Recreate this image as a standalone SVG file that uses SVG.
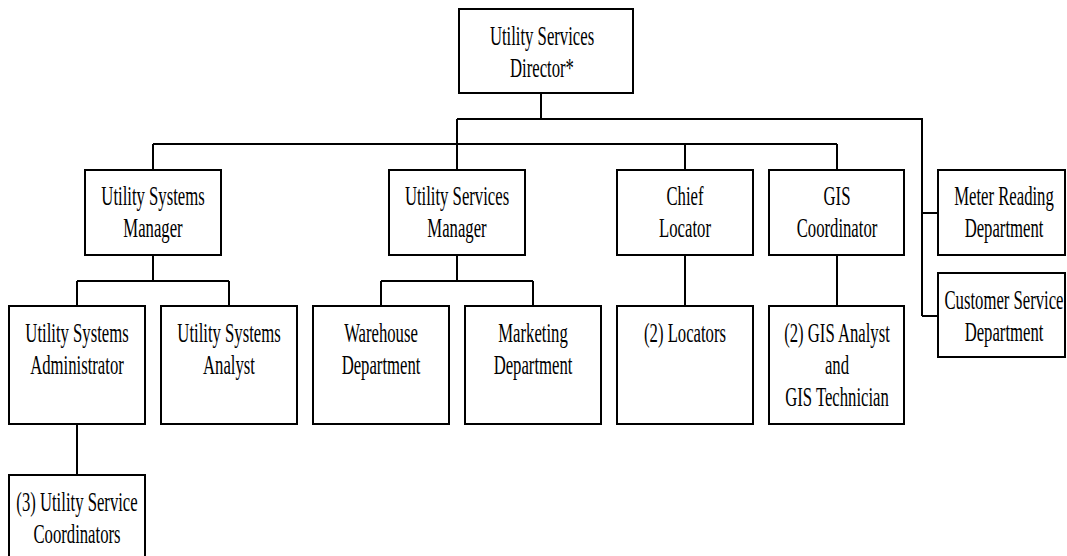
<svg xmlns="http://www.w3.org/2000/svg" width="1067" height="556" viewBox="0 0 1067 556">
  <style>
    .box { fill: #fff; stroke: #000; stroke-width: 2; }
    .link { fill: none; stroke: #000; stroke-width: 2; }
    .t { font-family: "Liberation Serif", "Times New Roman", serif; font-size: 26.5px; fill: #000; text-anchor: middle; }
  </style>
  <rect width="1067" height="556" fill="#fff"/>

  <!-- connectors -->
  <g id="connectors">
    <path class="link" d="M541 93 V119 M457 119 H922 V316 M922 213 H938 M922 316 H938"/>
    <path class="link" d="M457 119 V170 M153 144 H837 M153 144 V170 M685 144 V170 M837 144 V170"/>
    <path class="link" d="M153 255 V281 M77 281 H229 M77 281 V306 M229 281 V306"/>
    <path class="link" d="M457 255 V281 M381 281 H533 M381 281 V306 M533 281 V306"/>
    <path class="link" d="M685 255 V306 M837 255 V306 M77 424 V475"/>
  </g>

  <g id="director">
    <rect class="box" x="459" y="9" width="174" height="84"/>
    <text class="t" transform="translate(542 0) scale(0.63 1)"><tspan x="0" y="45">Utility Services</tspan><tspan x="0" y="77">Director*</tspan></text>
  </g>

  <g id="systems-manager">
    <rect class="box" x="85" y="170" width="136" height="85"/>
    <text class="t" transform="translate(153 0) scale(0.63 1)"><tspan x="0" y="205">Utility Systems</tspan><tspan x="0" y="237">Manager</tspan></text>
  </g>

  <g id="services-manager">
    <rect class="box" x="389" y="170" width="136" height="85"/>
    <text class="t" transform="translate(457 0) scale(0.63 1)"><tspan x="0" y="205">Utility Services</tspan><tspan x="0" y="237">Manager</tspan></text>
  </g>

  <g id="chief-locator">
    <rect class="box" x="617" y="170" width="136" height="85"/>
    <text class="t" transform="translate(685 0) scale(0.63 1)"><tspan x="0" y="205">Chief</tspan><tspan x="0" y="237">Locator</tspan></text>
  </g>

  <g id="gis-coordinator">
    <rect class="box" x="769" y="170" width="135" height="85"/>
    <text class="t" transform="translate(837 0) scale(0.63 1)"><tspan x="0" y="205">GIS</tspan><tspan x="0" y="237">Coordinator</tspan></text>
  </g>

  <g id="meter-reading">
    <rect class="box" x="938" y="170" width="127" height="85"/>
    <text class="t" transform="translate(1004 0) scale(0.63 1)"><tspan x="0" y="205">Meter Reading</tspan><tspan x="0" y="237">Department</tspan></text>
  </g>

  <g id="customer-service">
    <rect class="box" x="938" y="273" width="127" height="84"/>
    <text class="t" transform="translate(1004 0) scale(0.63 1)"><tspan x="0" y="309">Customer Service</tspan><tspan x="0" y="341">Department</tspan></text>
  </g>

  <g id="systems-administrator">
    <rect class="box" x="9" y="306" width="136" height="118"/>
    <text class="t" transform="translate(77 0) scale(0.63 1)"><tspan x="0" y="342">Utility Systems</tspan><tspan x="0" y="374">Administrator</tspan></text>
  </g>

  <g id="systems-analyst">
    <rect class="box" x="161" y="306" width="136" height="118"/>
    <text class="t" transform="translate(229 0) scale(0.63 1)"><tspan x="0" y="342">Utility Systems</tspan><tspan x="0" y="374">Analyst</tspan></text>
  </g>

  <g id="warehouse">
    <rect class="box" x="313" y="306" width="136" height="118"/>
    <text class="t" transform="translate(381 0) scale(0.63 1)"><tspan x="0" y="342">Warehouse</tspan><tspan x="0" y="374">Department</tspan></text>
  </g>

  <g id="marketing">
    <rect class="box" x="465" y="306" width="136" height="118"/>
    <text class="t" transform="translate(533 0) scale(0.63 1)"><tspan x="0" y="342">Marketing</tspan><tspan x="0" y="374">Department</tspan></text>
  </g>

  <g id="locators">
    <rect class="box" x="617" y="306" width="136" height="118"/>
    <text class="t" transform="translate(685 0) scale(0.63 1)"><tspan x="0" y="342">(2) Locators</tspan></text>
  </g>

  <g id="gis-staff">
    <rect class="box" x="769" y="306" width="135" height="118"/>
    <text class="t" transform="translate(837 0) scale(0.63 1)"><tspan x="0" y="342">(2) GIS Analyst</tspan><tspan x="0" y="374">and</tspan><tspan x="0" y="406">GIS Technician</tspan></text>
  </g>

  <g id="service-coordinators">
    <rect class="box" x="9" y="475" width="136" height="120"/>
    <text class="t" transform="translate(77 0) scale(0.63 1)"><tspan x="0" y="511">(3) Utility Service</tspan><tspan x="0" y="543">Coordinators</tspan></text>
  </g>
</svg>
